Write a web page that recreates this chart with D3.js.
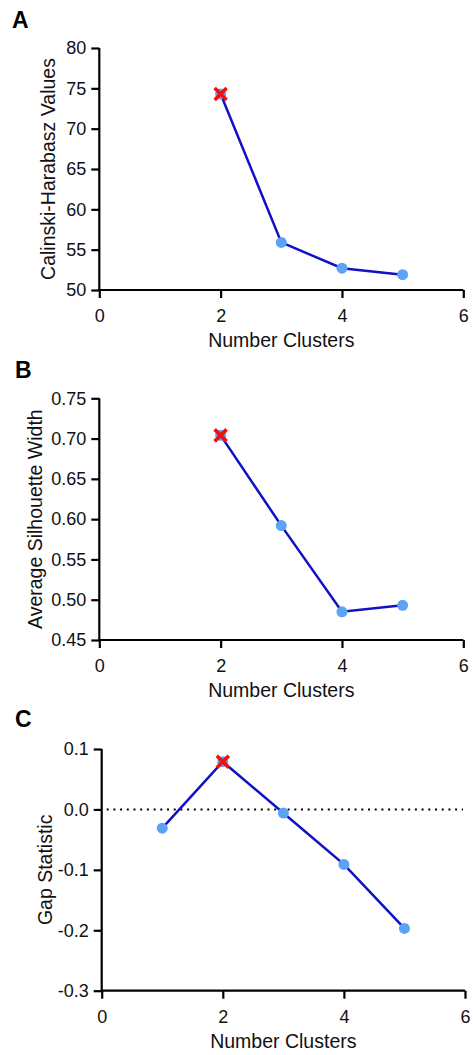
<!DOCTYPE html>
<html>
<head>
<meta charset="utf-8">
<script src="https://cdn.jsdelivr.net/npm/d3@7"></script>
<style>
  html, body { margin: 0; padding: 0; background: #fff; }
  svg { display: block; font-family: "Liberation Sans", Arial, sans-serif; }
</style>
</head>
<body>
<svg id="chart" width="473" height="1055"></svg>
<script>
// ---- data ----
const clustersA = [2, 3, 4, 5];
const chValues = [74.3, 55.9, 52.7, 51.9];
const clustersB = [2, 3, 4, 5];
const silValues = [0.704, 0.592, 0.485, 0.493];
const clustersC = [1, 2, 3, 4, 5];
const gapValues = [-0.031, 0.079, -0.006, -0.091, -0.197];
const optimalK = 2;
const xTicks = [0, 2, 4, 6];
const yTicksA = [50, 55, 60, 65, 70, 75, 80];
const yTicksB = [0.45, 0.50, 0.55, 0.60, 0.65, 0.70, 0.75];
const yTicksC = [-0.3, -0.2, -0.1, 0.0, 0.1];
const panelLetters = ["A", "B", "C"];
const yTitles = ["Calinski-Harabasz Values", "Average Silhouette Width", "Gap Statistic"];
const xTitle = "Number Clusters";

const svg = d3.select("#chart");
const hy = f => (d => f(d).replace("\u2212", "-"));

const panels = [
  { letter: panelLetters[0], xs: clustersA, ys: chValues, ticks: yTicksA, fmt: hy(d3.format("d")),
    xr: [99.3, 463.3], yr: [290, 48], yd: [50, 80], letterPos: [12, 28], yTitleX: 48, ref: null },
  { letter: panelLetters[1], xs: clustersB, ys: silValues, ticks: yTicksB, fmt: hy(d3.format(".2f")),
    xr: [99.3, 463.3], yr: [640, 398.3], yd: [0.45, 0.75], letterPos: [15, 378], yTitleX: 35, ref: null },
  { letter: panelLetters[2], xs: clustersC, ys: gapValues, ticks: yTicksC, fmt: hy(d3.format(".1f")),
    xr: [101.7, 465], yr: [990.7, 749], yd: [-0.3, 0.1], letterPos: [15, 727], yTitleX: 45, ref: 0 }
];

panels.forEach((p, i) => {
  const x = d3.scaleLinear().domain([0, 6]).range(p.xr);
  const y = d3.scaleLinear().domain(p.yd).range(p.yr);
  const g = svg.append("g");

  g.append("text").attr("x", p.letterPos[0]).attr("y", p.letterPos[1])
    .attr("font-size", 23).attr("font-weight", "bold").attr("fill", "#000").text(p.letter);

  const xAxis = d3.axisBottom(x).tickValues(xTicks).tickSize(8).tickPadding(5).tickFormat(d3.format("d"));
  const yAxis = d3.axisLeft(y).tickValues(p.ticks).tickSize(8).tickPadding(5).tickFormat(p.fmt);

  const gx = g.append("g").attr("transform", `translate(0,${p.yr[0]})`).call(xAxis);
  const gy = g.append("g").attr("transform", `translate(${p.xr[0]},0)`).call(yAxis);
  [gx, gy].forEach(a => {
    a.select(".domain").attr("stroke", "#000").attr("stroke-width", 2.2);
    a.selectAll(".tick line").attr("stroke", "#000").attr("stroke-width", 2.2);
    a.selectAll(".tick text").attr("font-size", 18).attr("fill", "#111")
      .attr("font-family", "Liberation Sans, Arial, sans-serif");
  });
  gx.select(".domain").attr("d", `M${p.xr[0]},0H${p.xr[1]}`);
  gy.select(".domain").attr("d", `M0,${p.yr[1]}V${p.yr[0]}`);
  gx.selectAll(".tick text").attr("dy", "1.05em");

  if (p.ref !== null) {
    g.append("line")
      .attr("x1", x(0) + 5).attr("x2", x(6) - 2)
      .attr("y1", y(p.ref)).attr("y2", y(p.ref))
      .attr("stroke", "#000").attr("stroke-width", 2)
      .attr("stroke-dasharray", "2,4.7");
  }

  const pts = p.xs.map((d, k) => [d, p.ys[k]]);
  g.append("path").datum(pts)
    .attr("fill", "none").attr("stroke", "#1010c4").attr("stroke-width", 2.5)
    .attr("d", d3.line().x(d => x(d[0])).y(d => y(d[1])));

  g.selectAll("circle.pt").data(pts).enter().append("circle")
    .attr("class", "pt")
    .attr("cx", d => x(d[0])).attr("cy", d => y(d[1])).attr("r", 5.5)
    .attr("fill", "#5ba4f5");

  const opt = pts.filter(d => d[0] === optimalK);
  const s = 6;
  opt.forEach(d => {
    const cx = x(d[0]), cy = y(d[1]);
    g.append("path")
      .attr("d", `M${cx - s},${cy - s}L${cx + s},${cy + s}M${cx - s},${cy + s}L${cx + s},${cy - s}`)
      .attr("stroke", "#ff0a0a").attr("stroke-width", 3.6).attr("fill", "none");
  });

  g.append("text")
    .attr("x", (p.xr[0] + p.xr[1]) / 2).attr("y", p.yr[0] + 57)
    .attr("text-anchor", "middle").attr("font-size", 19.5).attr("fill", "#111").text(xTitle);
  const ymid = (p.yr[0] + p.yr[1]) / 2;
  g.append("text")
    .attr("transform", `translate(${p.yTitleX},${ymid}) rotate(-90)`)
    .attr("text-anchor", "middle").attr("dy", "0.35em")
    .attr("font-size", 19.5).attr("fill", "#111").text(yTitles[i]);
});
</script>
</body>
</html>
